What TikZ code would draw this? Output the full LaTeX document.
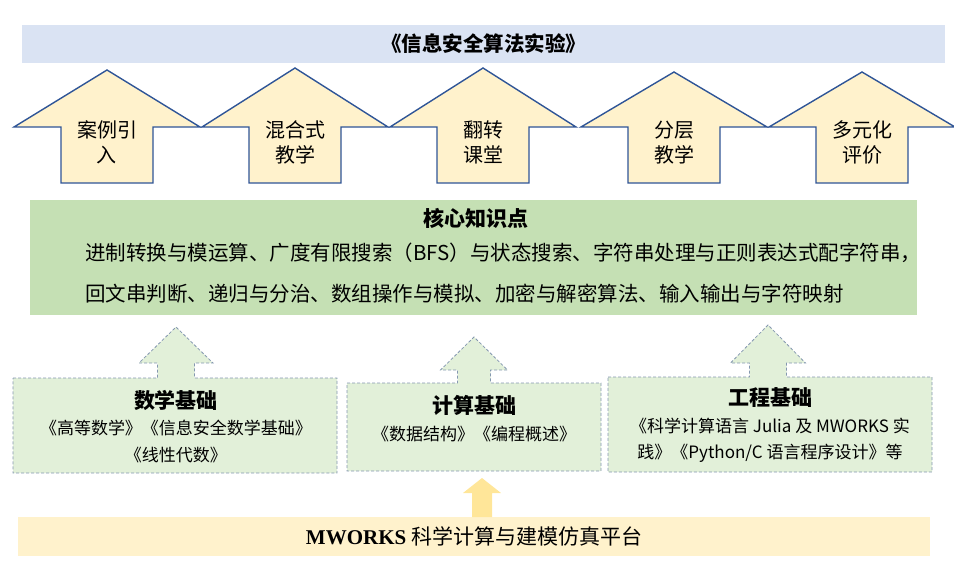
\documentclass[tikz,border=0pt]{standalone}
\usepackage{fontspec}
\setmainfont{Noto Sans CJK SC}
\newfontfamily\latinbf{Liberation Serif}
\usepackage{xcolor}
\usetikzlibrary{positioning}
\definecolor{titleblue}{HTML}{DAE3F3}
\definecolor{armfill}{HTML}{FFF2CC}
\definecolor{armline}{HTML}{2F5597}
\definecolor{coregreen}{HTML}{C5E0B4}
\definecolor{basegreen}{HTML}{E2F0D9}
\definecolor{baseline}{HTML}{8497B0}
\definecolor{platyellow}{HTML}{FFF2CC}
\definecolor{pushyellow}{HTML}{FFE699}
\newcommand\basehd{\fontsize{21}{26}\selectfont\bfseries}
\tikzset{
  titlebar/.style ={rectangle, fill=titleblue, minimum width=923pt, minimum height=38pt, inner sep=0pt, font=\fontsize{20.5}{24}\selectfont\bfseries},
  housearr/.style ={draw=armline, fill=armfill, line width=1.4pt, line join=miter},
  armtext/.style  ={align=center, inner sep=0pt, font=\fontsize{20}{25}\selectfont},
  corebox/.style  ={rectangle, fill=coregreen, minimum width=887pt, minimum height=115pt, inner sep=0pt},
  corehead/.style ={inner sep=0pt, font=\fontsize{21}{25}\selectfont\bfseries},
  coreline/.style ={anchor=west, inner sep=0pt, font=\fontsize{20.5}{24}\selectfont},
  basebox/.style  ={draw=baseline, fill=basegreen, dash pattern=on 3pt off 2pt, line width=0.8pt},
  basetext/.style ={align=center, inner sep=0pt, font=\fontsize{17}{26.5}\selectfont},
  pusharr/.style  ={fill=pushyellow},
  platbar/.style  ={rectangle, fill=platyellow, minimum width=912pt, minimum height=39pt, inner sep=0pt, font=\fontsize{21}{25}\selectfont},
}
\begin{document}
\begin{tikzpicture}[x=1pt, y=-1pt]
  \useasboundingbox (0,0) rectangle (954,565);
  % course title
  \node[titlebar] (title) at (483.5,44) {《信息安全算法实验》};

  % teaching methods
  \foreach \cx/\ty/\txt [count=\i] in {107/70/{案例引\\入}, 295/68/{混合式\\教学}, 483/68/{翻转\\课堂}, 674/72/{分层\\教学}, 862/72/{多元化\\评价}}{
    \draw[housearr] (\cx,\ty) -- (\cx+93,127) -- (\cx+46,127) -- (\cx+46,183)
      -- (\cx-46,183) -- (\cx-46,127) -- (\cx-93,127) -- cycle;
    \node[armtext] (method\i) at (\cx,142.5) {\txt};
  }

  % core knowledge
  \node[corebox] (core) at (473.5,257.5) {};
  \node[corehead] (corehd) at (476,218) {核心知识点};
  \node[coreline] (coreA) at (85,253) {进制转换与模运算、广度有限搜索（BFS）与状态搜索、字符串处理与正则表达式配字符串，};
  \node[coreline] (coreB) at (85,294) {回文串判断、递归与分治、数组操作与模拟、加密与解密算法、输入输出与字符映射};

  % foundation courses with arrows up to the core
  \foreach \xa/\xb/\yt/\yb/\cx/\s/\w/\wy/\ty in {13/337/378/473/176/18.5/37/363/327, 347/601/383/471/474/16.5/33.5/370/337, 608/932/377/472/768/18.5/37.5/363/325}{
    \draw[basebox] (\xa,\yt) -- (\cx-\s,\yt) -- (\cx-\s,\wy) -- (\cx-\w,\wy) -- (\cx,\ty)
      -- (\cx+\w,\wy) -- (\cx+\s,\wy) -- (\cx+\s,\yt) -- (\xb,\yt) -- (\xb,\yb) -- (\xa,\yb) -- cycle;
  }
  \node[basetext] (math) at (176,426.5) {{\basehd 数学基础}\\《高等数学》《信息安全数学基础》\\《线性代数》};
  \node[basetext] (comp) at (474,418.5) {{\basehd 计算基础}\\《数据结构》《编程概述》};
  \node[basetext] (eng)  at (770,425.5) {{\basehd 工程基础}\\《科学计算语言 Julia 及 MWORKS 实\\践》《Python/C 语言程序设计》等};

  % platform
  \node[platbar] (plat) at (474,536.5) {{\latinbf\bfseries MWORKS} 科学计算与建模仿真平台};
  \fill[pusharr] (482,478) -- (501,493) -- (492,493) -- (492,517) -- (472,517) -- (472,493) -- (463,493) -- cycle;
\end{tikzpicture}
\end{document}
